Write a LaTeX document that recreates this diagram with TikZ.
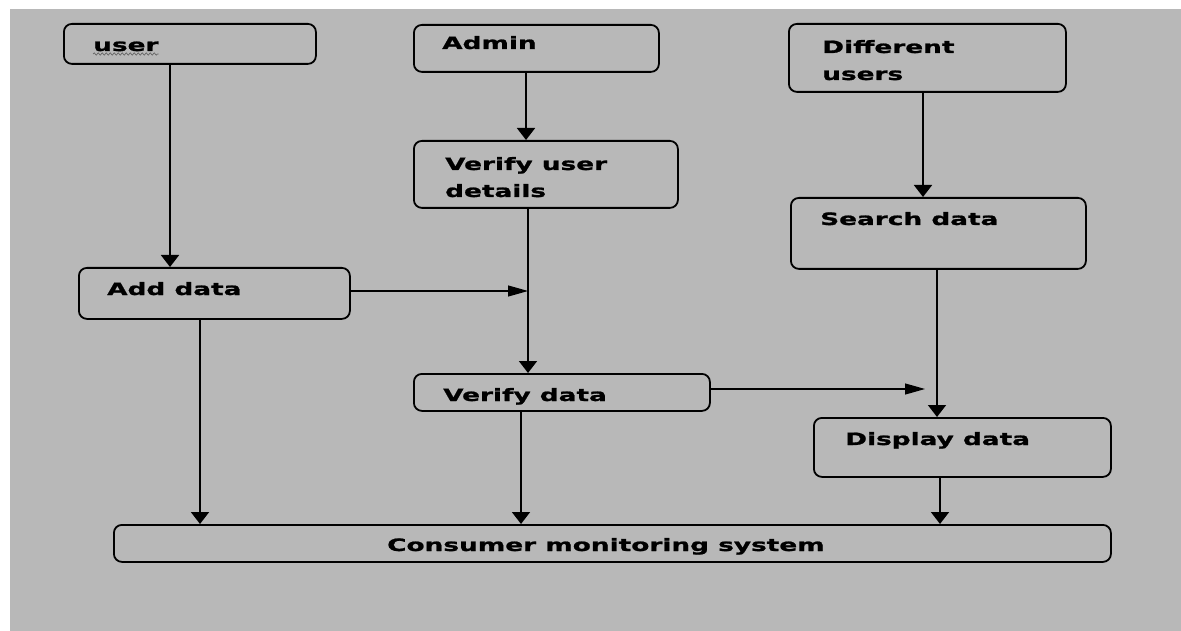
\documentclass[tikz,border=0pt]{standalone}
\usepackage{fontspec}
\newfontfamily\lblfont[FakeStretch=1.55,FakeBold=1.2]{DejaVu Sans Bold}
\usetikzlibrary{arrows.meta,decorations.pathmorphing}
\definecolor{bggray}{RGB}{184,184,184}
\tikzset{
  box/.style={draw=black, line width=1.8pt, rounded corners=8pt, anchor=north west, inner sep=0pt},
  lbl/.style={font=\lblfont\fontsize{17}{27}\selectfont, anchor=base west, inner sep=0pt, align=left, text=black},
  varr/.style={draw=black, line width=1.8pt, -{Triangle[width=18pt,length=12pt]}},
  harr/.style={draw=black, line width=1.2pt, -{Triangle[width=11pt,length=20pt]}},
  squig/.style={draw=black!60, line width=0.7pt, decorate, decoration={snake, amplitude=1.1pt, segment length=4pt}}
}
\begin{document}
\begin{tikzpicture}[x=1pt,y=-1pt]
\useasboundingbox (0,0) rectangle (1181,631);
\fill[white] (0,0) rectangle (1181,631);
\fill[bggray] (10,9) rectangle (1181,631);

% boxes
\node[box, minimum width=252pt, minimum height=40pt] (user) at (63,23) {};
\node[box, minimum width=245pt, minimum height=47pt] (admin) at (413,24) {};
\node[box, minimum width=277pt, minimum height=68pt] (diff) at (788,23) {};
\node[box, minimum width=264pt, minimum height=67pt] (vud) at (413,140) {};
\node[box, minimum width=295pt, minimum height=71pt] (search) at (790,197) {};
\node[box, minimum width=271pt, minimum height=51pt] (add) at (78,267) {};
\node[box, minimum width=296pt, minimum height=37pt] (vdata) at (413,373) {};
\node[box, minimum width=297pt, minimum height=59pt] (disp) at (813,417) {};
\node[box, minimum width=997pt, minimum height=37pt] (cms) at (113,524) {};

% texts (for two-line texts the base anchor is the last line)
\node[lbl] (tuser) at (93,51) {user};
\draw[squig] ([yshift=-3pt]tuser.base west) -- ([yshift=-3pt]tuser.base east);
\node[lbl] (tadmin) at (442,49) {Admin};
\node[lbl] (tdiff) at (822,80) {Different\\users};
\node[lbl] (tvud) at (445,197) {Verify user\\details};
\node[lbl] (tsearch) at (820,225) {Search data};
\node[lbl] (tadd) at (107,295) {Add data};
\node[lbl] (tvdata) at (443,401) {Verify data};
\node[lbl] (tdisp) at (845,445) {Display data};
\node[lbl] (tcms) at (387,551) {Consumer monitoring system};

% column coordinates
\coordinate (cu) at (170,0);
\coordinate (ca) at (526,0);
\coordinate (cd) at (923,0);
\coordinate (cv) at (528,0);
\coordinate (cs) at (937,0);
\coordinate (c1) at (200,0);
\coordinate (c2) at (521,0);
\coordinate (c3) at (940,0);
\coordinate (h1) at (0,291);
\coordinate (h2) at (0,389);

% connectors
\draw[varr] (user.south -| cu) -- (add.north -| cu);
\draw[varr] (admin.south -| ca) -- (vud.north -| ca);
\draw[varr] (diff.south -| cd) -- (search.north -| cd);
\draw[varr] (vud.south -| cv) -- (vdata.north -| cv);
\draw[varr] (search.south -| cs) -- (disp.north -| cs);
\draw[harr] (add.east |- h1) -- (cv |- h1);
\draw[harr] (vdata.east |- h2) -- ([xshift=-12pt]cs |- h2);
\draw[varr] (add.south -| c1) -- (cms.north -| c1);
\draw[varr] (vdata.south -| c2) -- (cms.north -| c2);
\draw[varr] (disp.south -| c3) -- (cms.north -| c3);
\end{tikzpicture}
\end{document}
